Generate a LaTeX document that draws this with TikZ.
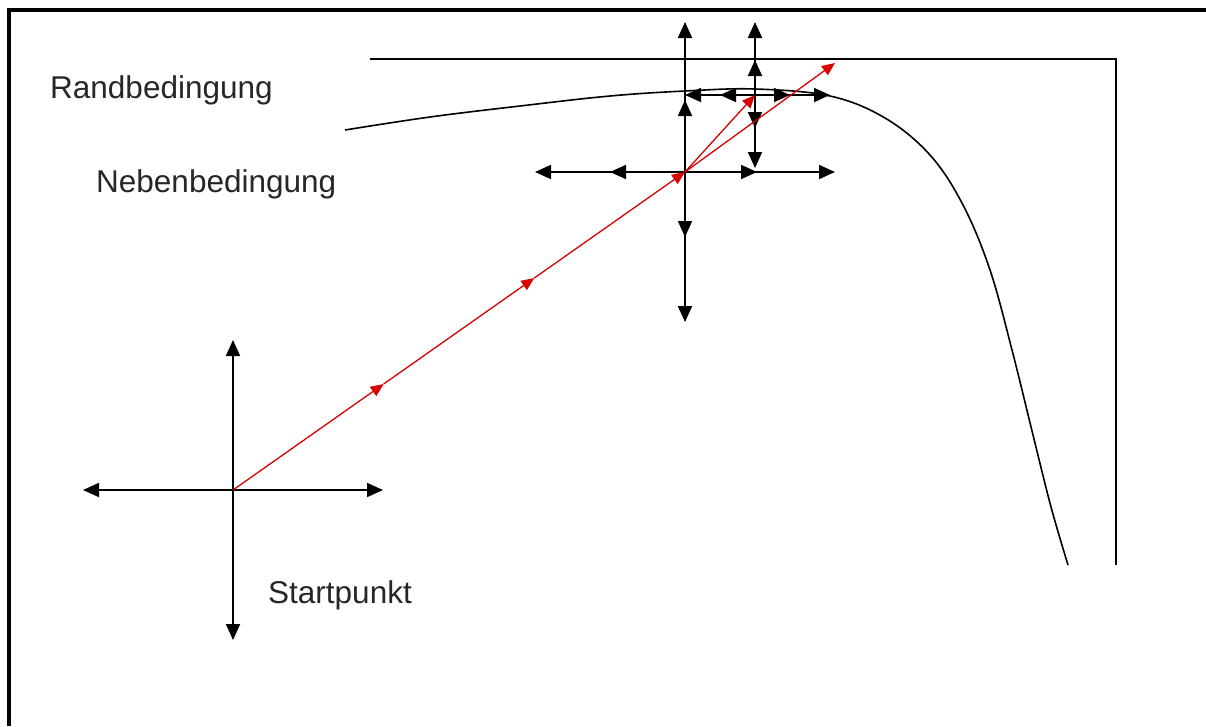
\documentclass[tikz,border=0pt]{standalone}
\usepackage{fontspec}
\setmainfont{Liberation Sans}
\usetikzlibrary{arrows.meta,calc}

\begin{document}
\begin{tikzpicture}[
    x=1pt, y=-1pt,
    probe/.style={-{Triangle[length=16pt,width=14pt]}, line width=1.8pt, black},
    move/.style={-{Triangle[length=13pt,width=11pt]}, line width=1.3pt, red!85!black},
    bound/.style={line width=1.6pt, black},
    txt/.style={anchor=base west, inner sep=0pt, font=\fontsize{31.5}{36}\selectfont, text=black!85}
]
    \useasboundingbox (0,0) rectangle (1206,726);

    % Frame
    \draw[line width=3.5pt] (9,726) -- (9,10) -- (1206,10);

    % Points
    \coordinate (start) at (233,490);
    \coordinate (base) at (685,172);
    \coordinate (probe) at (755,95);
    \coordinate (next) at (835,63);
    \coordinate (p1) at ($(start)!1/3!(base)$);
    \coordinate (p2) at ($(start)!2/3!(base)$);

    % Randbedingung
    \coordinate (r1) at (370,59);
    \coordinate (r2) at (1116,59);
    \coordinate (r3) at (1116,565);
    \draw[bound] (r1) -- (r2) -- (r3);

    % Nebenbedingung
    \draw[bound] plot[smooth, tension=0.6] coordinates {(345,130) (430,117) (520,106) (610,96)
        (685,91) (755,89) (830,96) (885,118) (930,155) (963,205) (990,270) (1012,350)
        (1033,435) (1051,507) (1068,565)};

    % Labels
    \node[txt] (rand) at (50,98) {Randbedingung};
    \node[txt] (neben) at (96,192) {Nebenbedingung};
    \node[txt] (startlbl) at (268,603) {Startpunkt};

    % Exploratory moves
    \foreach \dx/\dy in {150/0,-150/0,0/150,0/-150}
        \draw[probe] (start) -- ++(\dx,\dy);
    \foreach \dx/\dy in {150/0,72/0,-150/0,-75/0,0/150,0/65,0/-150,0/-72}
        \draw[probe] (base) -- ++(\dx,\dy);
    \foreach \dx/\dy in {75/0,35/0,-70/0,-35/0,0/73,0/33,0/-73,0/-35}
        \draw[probe] (probe) -- ++(\dx,\dy);

    % Pattern moves
    \draw[move] (start) -- (p1);
    \draw[move] (p1) -- (p2);
    \draw[move] (p2) -- (base);
    \draw[move] (base) -- (probe);
    \draw[move] (base) -- (next);

\end{tikzpicture}
\end{document}
